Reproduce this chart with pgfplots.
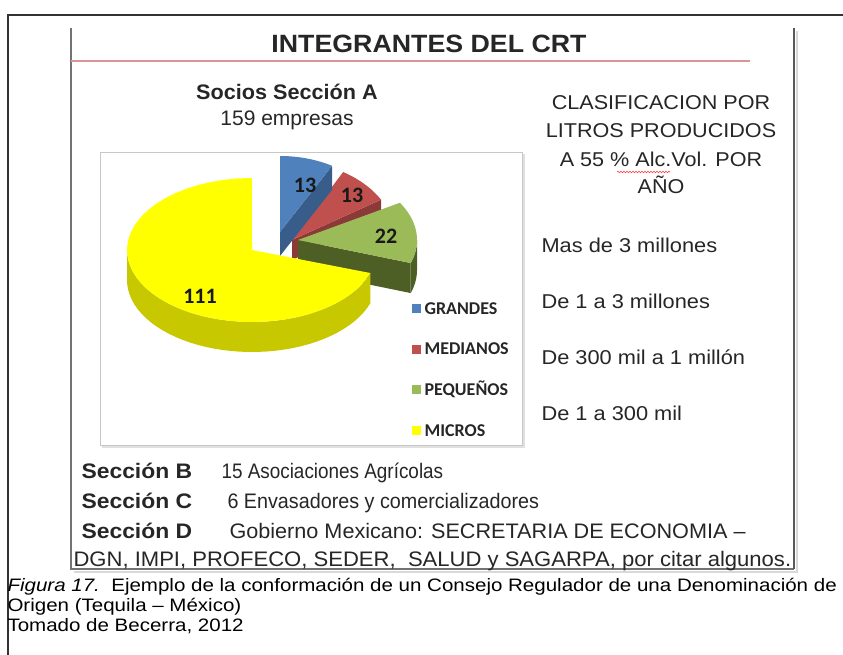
\documentclass[border=0pt]{standalone}
\usepackage{pgfplots}
\pgfplotsset{compat=1.18}
\usetikzlibrary{decorations.pathmorphing}
\usepackage{fontspec}
\setmainfont{Liberation Sans}
\newfontfamily\carlito{Carlito}
\definecolor{txt}{HTML}{262626}
\definecolor{blueT}{HTML}{4F81BD}
\definecolor{blueS}{HTML}{385D8A}
\definecolor{redT}{HTML}{C0504D}
\definecolor{redS}{HTML}{8B3A38}
\definecolor{greenT}{HTML}{9BBB59}
\definecolor{greenS}{HTML}{4E5F26}
\definecolor{yelT}{HTML}{FFFF00}
\definecolor{yelS}{HTML}{C8C800}
\definecolor{redline}{HTML}{D99694}
% top face of a slice: color, tip x, tip y, rx, ry, start angle, end angle (clockwise from 12 o'clock)
\newcommand{\pieTop}[7]{%
 \addplot[fill=#1, draw=none, variable=\t, samples at={-1,0,1,...,40,41}, forget plot]
  ({#2+(\t>-0.5)*(\t<40.5)*#4*sin(#6+(#7-#6)*max(0,min(40,\t))/40)},
   {#3-(\t>-0.5)*(\t<40.5)*#5*cos(#6+(#7-#6)*max(0,min(40,\t))/40)});}
% outer side band: color, tip x, tip y, rx, ry, start, end, depth
\newcommand{\pieBand}[8]{%
 \addplot[fill=#1, draw=none, variable=\t, samples at={0,1,...,81}, forget plot]
  ({#2+#4*sin(#6+(#7-#6)*((\t<40.5)*\t+(\t>40.5)*(81-\t))/40)},
   {#3-#5*cos(#6+(#7-#6)*((\t<40.5)*\t+(\t>40.5)*(81-\t))/40)+(\t>40.5)*#8});}
% radial face: color, tip x, tip y, rx, ry, angle, depth
\newcommand{\pieQuad}[7]{%
 \addplot[fill=#1, draw=none, variable=\t, samples at={0,1,2,3}, forget plot]
  ({#2+(\t>0.5)*(\t<2.5)*#4*sin(#6)},
   {#3-(\t>0.5)*(\t<2.5)*#5*cos(#6)+(\t>1.5)*#7});}
\begin{document}
\begin{tikzpicture}
\def\vG{13}\def\vM{13}\def\vP{22}\def\vMi{111}
\pgfmathsetmacro\tot{\vG+\vM+\vP+\vMi}
\pgfmathsetmacro\aA{360*\vG/\tot}
\pgfmathsetmacro\aB{\aA+360*\vM/\tot}
\pgfmathsetmacro\aC{\aB+360*\vP/\tot}
\begin{axis}[scale only axis, width=843pt, height=655pt,
  xmin=0, xmax=843, ymin=0, ymax=655, y dir=reverse,
  hide axis, clip=false,
  legend style={at={(axis description cs:0.4887,0.5389)}, anchor=north west,
    draw=none, fill=none, row sep=28.6pt, column sep=4pt, inner sep=0pt,
    font=\carlito\bfseries\fontsize{18}{18}\selectfont, text=txt,
    nodes={inner sep=0pt, text height=12pt, text depth=0pt}},
  legend cell align=left]
% page frame
\draw[line width=1.5pt, black!80] (8,655) -- (8,15) -- (843,15);
% slide frame
\draw[line width=1.6pt, black!55] (71,28) -- (71,569) -- (794,569);
\draw[line width=2.2pt, black!65] (794,28) -- (794,569);
\draw[line width=2pt, black!15] (797,31) -- (797,572) -- (74,572);
% title
\node[anchor=base, text=txt, font=\bfseries\fontsize{25}{25}\selectfont] at (429,53) {\scalebox{1.07}[1]{INTEGRANTES DEL CRT}};
\draw[line width=1.3pt, redline] (71,61) -- (750,61);
\node[anchor=base, text=txt, font=\bfseries\fontsize{21}{21}\selectfont] at (287,100) {\scalebox{1.03}[1]{Socios Sección A}};
\node[anchor=base, text=txt, font=\fontsize{21}{21}\selectfont] at (287,126) {159 empresas};
% chart box
\draw[black!12, line width=1.5pt] (102,447) -- (524,447) -- (524,154);
\draw[black!22, line width=0.8pt] (100,152) rectangle (522,445);
% pie slices (back to front)
\pieQuad{redS}{292}{240}{104}{78}{\aB}{20}
\pieTop{redT}{292}{240}{104}{78}{\aA}{\aB}
\pieQuad{blueS}{280}{232}{106}{76}{\aA}{24}
\pieTop{blueT}{280}{232}{106}{76}{0}{\aA}
\pieBand{greenS}{298}{240}{119}{72}{90}{\aC}{30}
\pieQuad{greenS}{298}{240}{119}{72}{\aC}{30}
\pieTop{greenT}{298}{240}{119}{72}{\aB}{\aC}
\pieBand{yelS}{252}{250}{125}{72}{\aC}{270}{30}
\pieTop{yelT}{252}{250}{125}{72}{\aC}{360}
% slice labels
\node[text=black!90, font=\carlito\bfseries\fontsize{22}{22}\selectfont] at (305,185) {\vG};
\node[text=black!90, font=\carlito\bfseries\fontsize{22}{22}\selectfont] at (352,195) {\vM};
\node[text=black!90, font=\carlito\bfseries\fontsize{22}{22}\selectfont] at (386,236) {\vP};
\node[text=black!90, font=\carlito\bfseries\fontsize{22}{22}\selectfont] at (200,296) {\vMi};
% legend
\addlegendimage{legend image code/.code={\fill[blueT] (-5pt,-4pt) rectangle (3pt,4pt);}}
\addlegendentry{GRANDES}
\addlegendimage{legend image code/.code={\fill[redT] (-5pt,-4pt) rectangle (3pt,4pt);}}
\addlegendentry{MEDIANOS}
\addlegendimage{legend image code/.code={\fill[greenT] (-5pt,-4pt) rectangle (3pt,4pt);}}
\addlegendentry{PEQUEÑOS}
\addlegendimage{legend image code/.code={\fill[yelT] (-5pt,-4pt) rectangle (3pt,4pt);}}
\addlegendentry{MICROS}
% right block
\node[anchor=base, text=txt, font=\fontsize{20}{20}\selectfont] at (661,110) {\scalebox{1.08}[1]{CLASIFICACION POR}};
\node[anchor=base, text=txt, font=\fontsize{20}{20}\selectfont] at (661,138) {\scalebox{1.08}[1]{LITROS PRODUCIDOS}};
\node[anchor=base, text=txt, font=\fontsize{20}{20}\selectfont] at (661,167) {\scalebox{1.08}[1]{A 55 \% Alc.Vol. POR}};
\draw[red!75, line width=0.6pt, decorate, decoration={snake, amplitude=0.8pt, segment length=3pt}] (617,172) -- (670,172);
\node[anchor=base, text=txt, font=\fontsize{20}{20}\selectfont] at (661,194) {\scalebox{1.08}[1]{AÑO}};
\node[anchor=base west, text=txt, font=\fontsize{20}{20}\selectfont] at (538,252) {\scalebox{1.09}[1]{Mas de 3 millones}};
\node[anchor=base west, text=txt, font=\fontsize{20}{20}\selectfont] at (538,308) {\scalebox{1.09}[1]{De 1 a 3 millones}};
\node[anchor=base west, text=txt, font=\fontsize{20}{20}\selectfont] at (538,364) {\scalebox{1.09}[1]{De 300 mil a 1 millón}};
\node[anchor=base west, text=txt, font=\fontsize{20}{20}\selectfont] at (538,420) {\scalebox{1.09}[1]{De 1 a 300 mil}};
% sections
\node[anchor=base west, text=txt, font=\bfseries\fontsize{21}{21}\selectfont] at (78,478) {\scalebox{1.09}[1]{Sección B}};
\node[anchor=base west, text=txt, font=\fontsize{21}{21}\selectfont] at (218,478) {\scalebox{0.9}[1]{15 Asociaciones Agrícolas}};
\node[anchor=base west, text=txt, font=\bfseries\fontsize{21}{21}\selectfont] at (78,508) {\scalebox{1.09}[1]{Sección C}};
\node[anchor=base west, text=txt, font=\fontsize{21}{21}\selectfont] at (224,508) {\scalebox{0.94}[1]{6 Envasadores y comercializadores}};
\node[anchor=base west, text=txt, font=\bfseries\fontsize{21}{21}\selectfont] at (78,538) {\scalebox{1.09}[1]{Sección D}};
\node[anchor=base west, text=txt, font=\fontsize{21}{21}\selectfont] at (226,538) {\scalebox{1.03}[1]{Gobierno Mexicano: SECRETARIA DE ECONOMIA –}};
\node[anchor=base west, text=txt, font=\fontsize{21}{21}\selectfont] at (70,566) {\scalebox{1.05}[1]{DGN, IMPI, PROFECO, SEDER,\ \ SALUD y SAGARPA, por citar algunos.}};
% caption
\node[anchor=base west, text=black, font=\fontsize{18}{18}\selectfont] at (4,591) {\scalebox{1.14}[1]{\textit{Figura 17.}\ \ Ejemplo de la conformación de un Consejo Regulador de una Denominación de}};
\node[anchor=base west, text=black, font=\fontsize{18}{18}\selectfont] at (4,611) {\scalebox{1.14}[1]{Origen (Tequila – México)}};
\node[anchor=base west, text=black, font=\fontsize{18}{18}\selectfont] at (4,631) {\scalebox{1.14}[1]{Tomado de Becerra, 2012}};
\end{axis}
\pgfresetboundingbox
\path (current axis.south west) rectangle (current axis.north east);
\end{tikzpicture}
\end{document}
